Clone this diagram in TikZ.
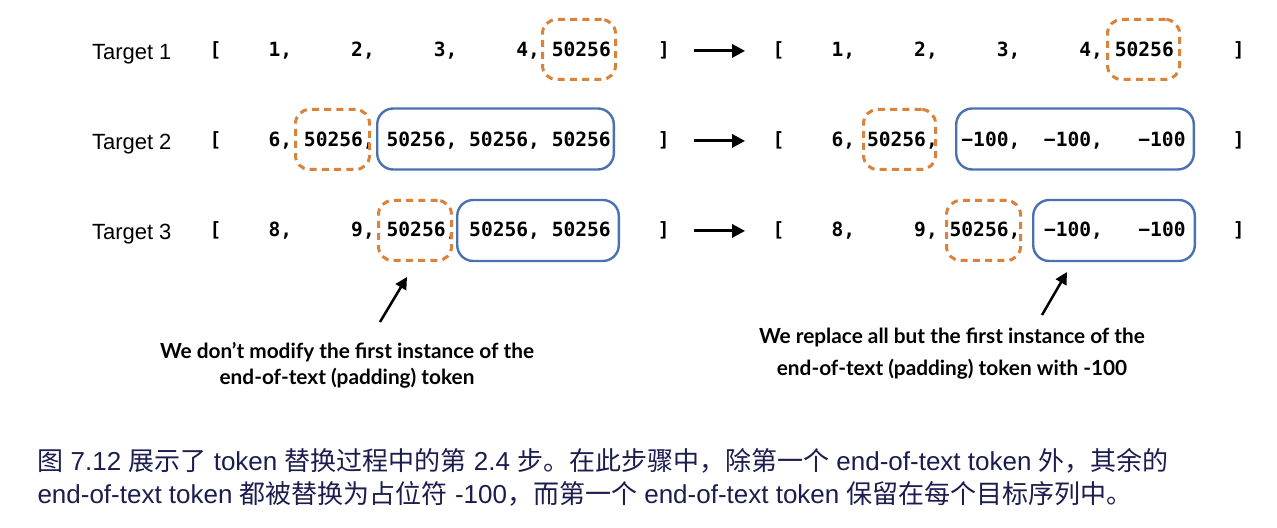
\documentclass[tikz,border=0pt]{standalone}
\usepackage{fontspec}
\usetikzlibrary{arrows.meta}
\setmainfont{Liberation Sans}
\setmonofont{DejaVu Sans Mono}
\newfontfamily\notefont{Lato}
\newfontfamily\cjk{Noto Sans CJK SC}
\definecolor{padorange}{RGB}{217,130,60}
\definecolor{maskblue}{RGB}{74,114,176}
\definecolor{capnavy}{RGB}{28,28,78}

\begin{document}
\begin{tikzpicture}[x=.5pt,y=-.5pt,line width=.5pt,
  lab/.style={anchor=base east,inner sep=0pt,font=\fontsize{11}{13}\selectfont},
  seq/.style={anchor=base west,inner sep=0pt,font=\ttfamily\bfseries\fontsize{9.8}{12}\selectfont},
  padbox/.style={draw=padorange,line width=1.5pt,dash pattern=on 3.5pt off 2.6pt,rounded corners=7pt,minimum height=30pt,inner sep=0pt},
  maskbox/.style={draw=maskblue,line width=1.2pt,rounded corners=8pt,minimum height=30.5pt,inner sep=0pt},
  flow/.style={line width=1.5pt,-{Triangle[length=6.5pt,width=6.5pt]}},
  pointer/.style={line width=1.25pt,-{Triangle[length=6pt,width=6pt]}},
  note/.style={align=center,inner sep=0pt,font=\notefont\bfseries\fontsize{10.4}{13}\selectfont},
  captext/.style={anchor=base west,inner sep=0pt,text=capnavy,font=\fontsize{13}{16}\selectfont}]
\path[use as bounding box] (0,0) rectangle (1277,528);
\node[lab] (t1) at (172,60) {Target 1};
\node[lab] (t2) at (172,150) {Target 2};
\node[lab] (t3) at (172,240) {Target 3};
\node[seq] (l1) at (209.1,57) {[~~~~1,~~~~~2,~~~~~3,~~~~~4,~50256~~~~]};
\node[seq] (l2) at (209.1,147) {[~~~~6,~50256,~50256,~50256,~50256~~~~]};
\node[seq] (l3) at (209.1,237) {[~~~~8,~~~~~9,~50256,~50256,~50256~~~~]};
\node[seq] (r1) at (772.1,57) {[~~~~1,~~~~~2,~~~~~3,~~~~~4,~50256~~~~~]};
\node[seq] (r2) at (772.1,147) {[~~~~6,~50256,~~−100,~~−100,~~~−100~~~~]};
\node[seq] (r3) at (772.1,237) {[~~~~8,~~~~~9,~50256,~~−100,~~~−100~~~~]};
\node[padbox,minimum width=36.5pt] (o1l) at (579,49.5) {};
\node[padbox,minimum width=37pt] (o2l) at (332.5,139.5) {};
\node[maskbox,minimum width=118.3pt] (b2l) at (495.5,139) {};
\node[padbox,minimum width=36.5pt] (o3l) at (415,230.5) {};
\node[maskbox,minimum width=80.8pt] (b3l) at (538,230.5) {};
\node[padbox,minimum width=36pt] (o1r) at (1143.5,49.5) {};
\node[padbox,minimum width=36pt] (o2r) at (899.5,139.5) {};
\node[maskbox,minimum width=118.8pt] (b2r) at (1075,139) {};
\node[padbox,minimum width=37pt] (o3r) at (983.5,230.5) {};
\node[maskbox,minimum width=80.8pt] (b3r) at (1114,230.5) {};
\foreach \i in {1,2,3}
  \draw[flow,shorten <=11.8pt,shorten >=13.5pt] (l\i) -- (r\i);
\node[note] (n1) at (347,365) {We don’t modify the first instance of the\\end-of-text (padding) token};
\node[note,font=\notefont\bfseries\fontsize{10.4}{16}\selectfont] (n2) at (952,354) {We replace all but the first instance of the\\end-of-text (padding) token with -100};
\coordinate (p1) at (380,322);
\coordinate (p1tip) at (407,277);
\coordinate (p2) at (1042,315);
\coordinate (p2tip) at (1067,272);
\draw[pointer] (p1) -- (p1tip);
\draw[pointer] (p2) -- (p2tip);
\node[captext] (cap1) at (37,470) {{\cjk 图} 7.12 {\cjk 展示了} token {\cjk 替换过程中的第} 2.4 {\cjk 步。在此步骤中，除第一个} end-of-text token {\cjk 外，其余的}};
\node[captext] (cap2) at (37,503) {end-of-text token {\cjk 都被替换为占位符} -100{\cjk ，而第一个} end-of-text token {\cjk 保留在每个目标序列中。}};
\end{tikzpicture}
\end{document}
